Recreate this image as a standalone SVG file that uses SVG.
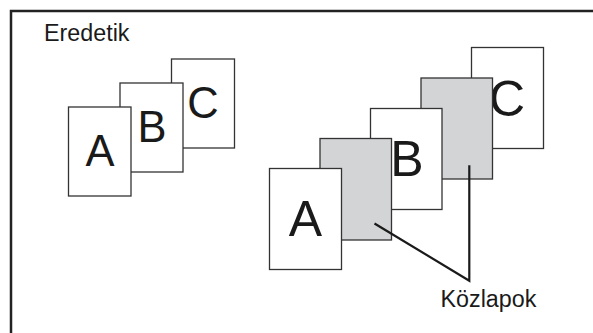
<svg xmlns="http://www.w3.org/2000/svg" width="593" height="333" viewBox="0 0 593 333">
<style>
.page{fill:#fff;stroke:#333;stroke-width:1.3}
.insert{fill:#d3d4d6;stroke:#333;stroke-width:1.3}
.lt{font-family:"Liberation Sans",Arial,sans-serif;fill:#1a1a1a;text-anchor:middle}
.lbl{font-family:"Liberation Sans",Arial,sans-serif;fill:#1a1a1a;font-size:23.3px}
.conn{fill:none;stroke:#1a1a1a;stroke-width:2.2}
</style>
<rect width="593" height="333" fill="#fff"/>
<path d="M11,333 V11 H593" fill="none" stroke="#222" stroke-width="2.5"/>
<text class="lbl" x="44" y="41.3">Eredetik</text>
<g id="orig-C"><rect class="page" x="171.5" y="59" width="63" height="89"/><text class="lt" x="203" y="117.5" font-size="43.5">C</text></g>
<g id="orig-B"><rect class="page" x="120" y="83" width="63" height="89"/><text class="lt" x="152" y="142" font-size="43.5">B</text></g>
<g id="orig-A"><rect class="page" x="68.5" y="107" width="62.5" height="89"/><text class="lt" x="100" y="166" font-size="43.5">A</text></g>
<g id="copy-C"><rect class="page" x="471.5" y="47.5" width="72" height="101"/><text class="lt" x="507" y="115.5" font-size="50">C</text></g>
<g id="insert-2"><rect class="insert" x="421" y="78" width="71.5" height="101"/></g>
<g id="copy-B"><rect class="page" x="370.5" y="108.5" width="71.5" height="101"/><text class="lt" x="407" y="176" font-size="50">B</text></g>
<g id="insert-1"><rect class="insert" x="320" y="138.5" width="71.5" height="101.5"/></g>
<g id="copy-A"><rect class="page" x="269.5" y="168.5" width="72" height="101"/><text class="lt" x="305.5" y="236" font-size="50">A</text></g>
<g id="connectors">
<path class="conn" d="M374.5,223.5 L469.3,280.7 V165.3"/>
</g>
<text class="lbl" x="440.5" y="306.7">Közlapok</text>
</svg>
